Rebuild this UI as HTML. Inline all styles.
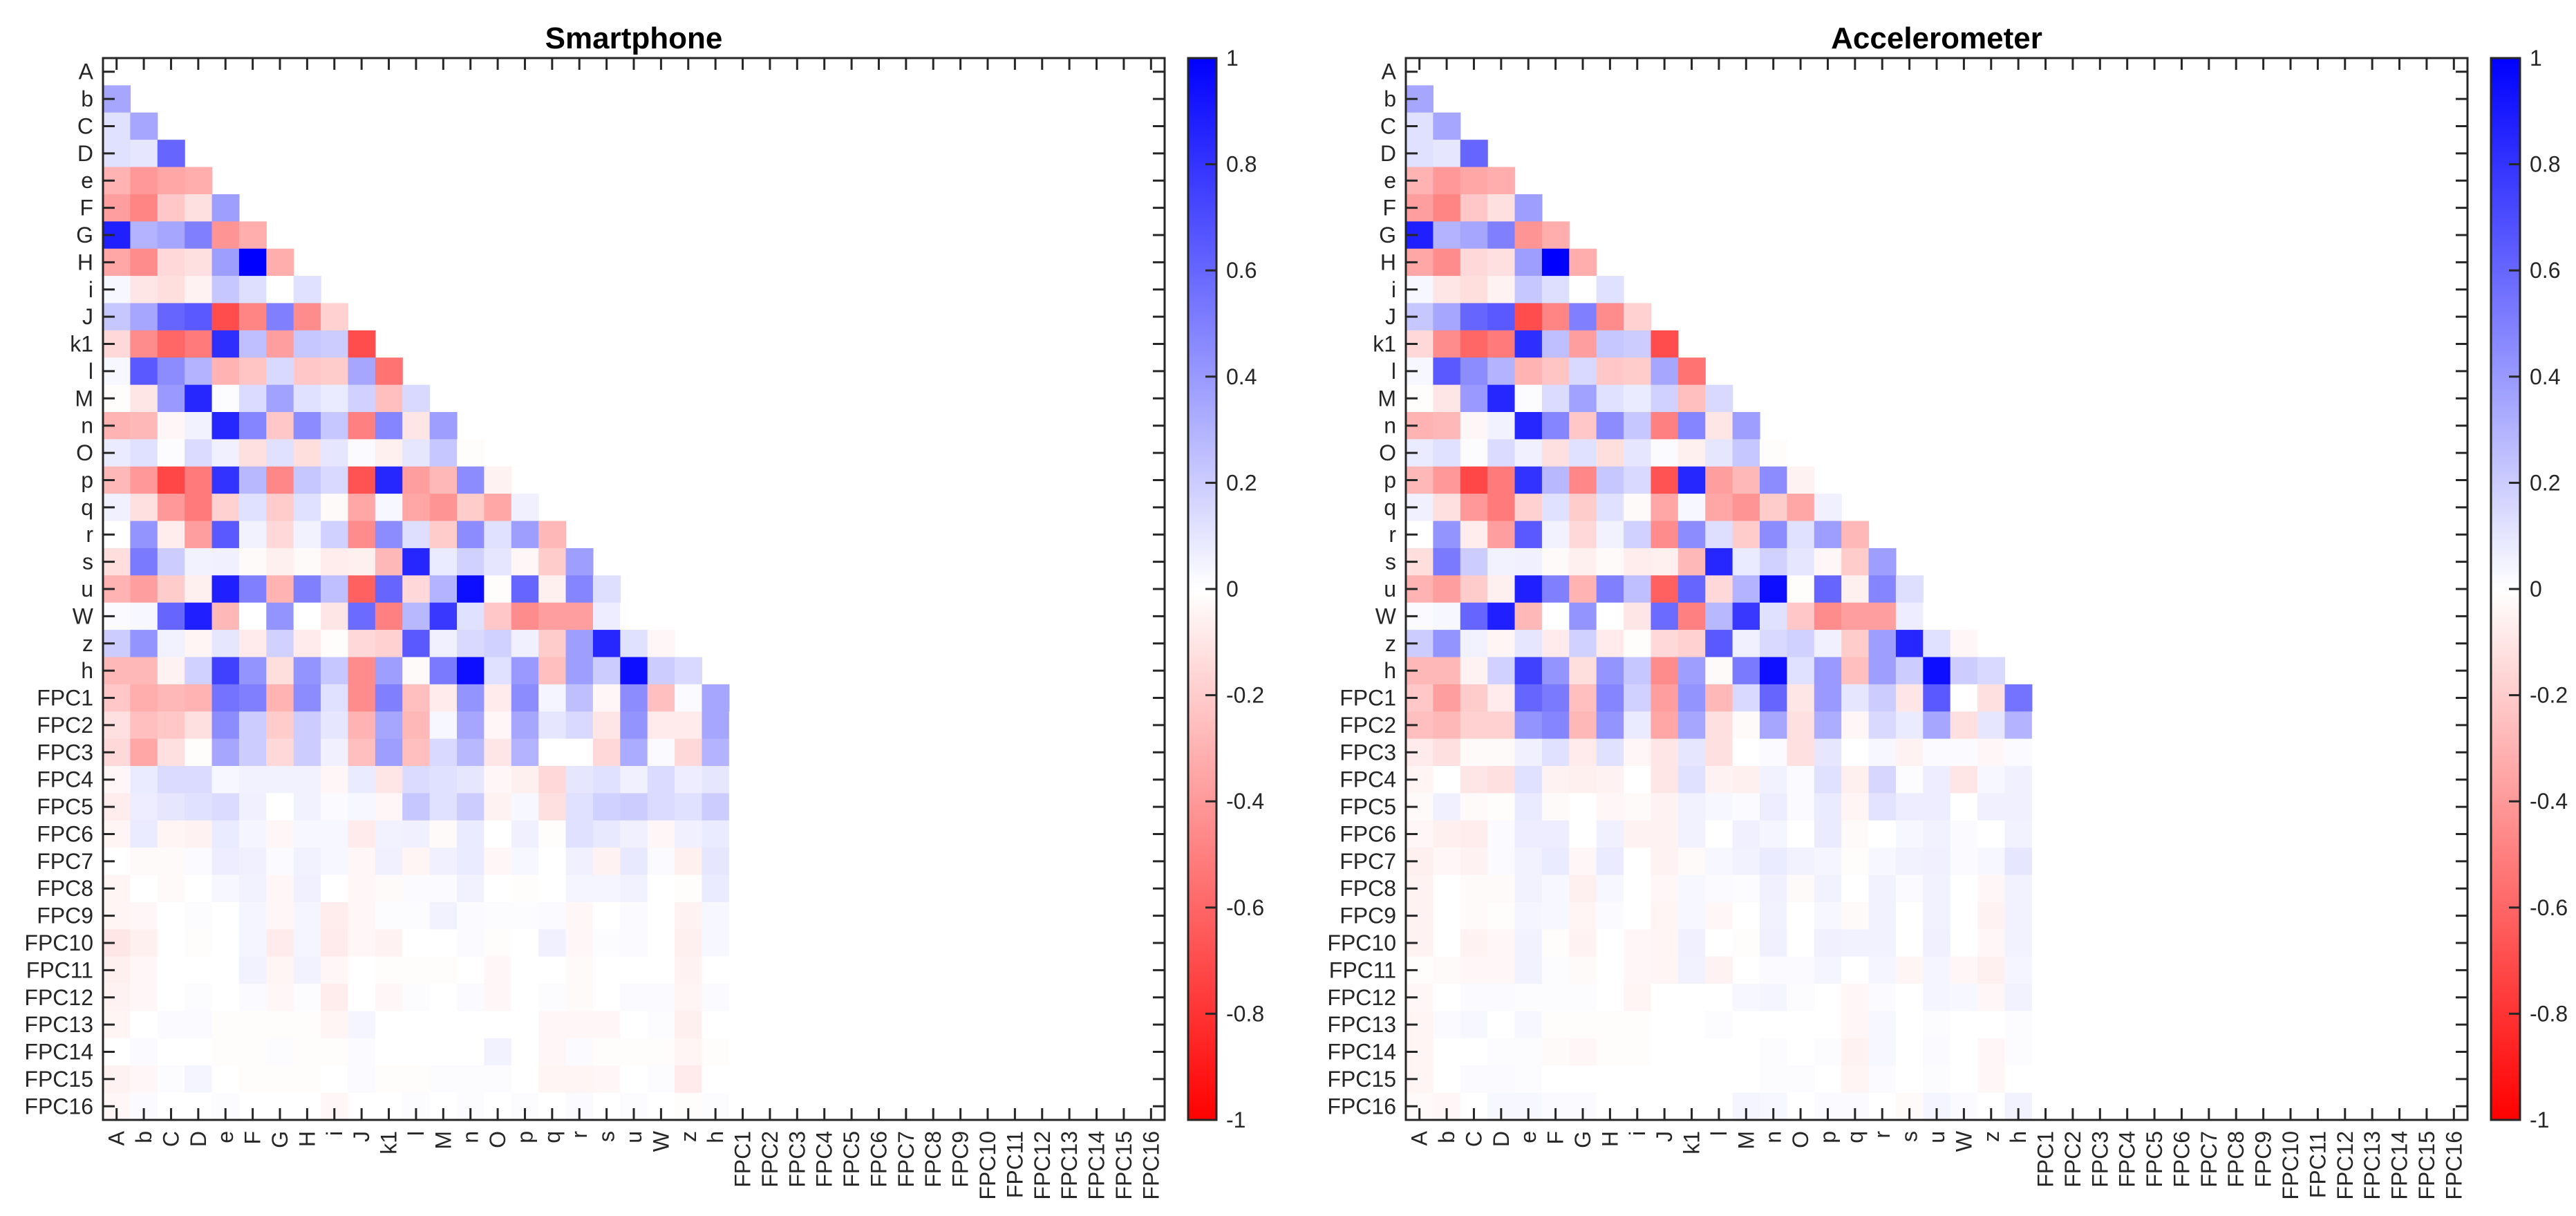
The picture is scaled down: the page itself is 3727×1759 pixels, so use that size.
<!DOCTYPE html>
<html><head><meta charset="utf-8">
<style>
html,body{margin:0;padding:0;background:#fff;}
svg{display:block;font-family:"Liberation Sans",Arial,sans-serif;}
</style></head>
<body>
<svg id="fig" width="3727" height="1759" viewBox="0 0 3727 1759" xmlns="http://www.w3.org/2000/svg">
<defs>
<linearGradient id="cbgrad" x1="0" y1="0" x2="0" y2="1">
<stop offset="0" stop-color="#0000ff"/><stop offset="0.5" stop-color="#ffffff"/><stop offset="1" stop-color="#ff0000"/>
</linearGradient>
</defs>
</svg>
<script>
const varNames = ["A","b","C","D","e","F","G","H","i","J","k1","l","M","n","O","p","q","r","s","u","W","z","h"];
const fpcNames = ["FPC1","FPC2","FPC3","FPC4","FPC5","FPC6","FPC7","FPC8","FPC9","FPC10","FPC11","FPC12","FPC13","FPC14","FPC15","FPC16"];
const cbTicks = [1,0.8,0.6,0.4,0.2,0,-0.2,-0.4,-0.6,-0.8,-1];
const cbTickLabels = ["1","0.8","0.6","0.4","0.2","0","-0.2","-0.4","-0.6","-0.8","-1"];

const varCorrRows = [
[],
[0.35],
[0.12,0.35],
[0.12,0.1,0.6],
[-0.3,-0.4,-0.35,-0.32],
[-0.38,-0.48,-0.22,-0.12,0.38],
[0.88,0.3,0.35,0.5,-0.42,-0.32],
[-0.35,-0.45,-0.15,-0.12,0.38,1.0,-0.32],
[0.03,-0.1,-0.13,-0.05,0.22,0.13,0.0,0.12],
[0.22,0.35,0.6,0.65,-0.7,-0.48,0.5,-0.45,-0.18],
[-0.15,-0.45,-0.6,-0.52,0.82,0.25,-0.38,0.22,0.2,-0.7],
[0.03,0.65,0.45,0.3,-0.3,-0.23,0.15,-0.22,-0.2,0.35,-0.55],
[-0.01,-0.1,0.4,0.85,0.01,0.14,0.37,0.12,0.08,0.18,-0.25,0.15],
[-0.3,-0.28,-0.03,0.05,0.85,0.48,-0.22,0.45,0.22,-0.5,0.48,-0.1,0.38],
[0.08,0.12,0.01,0.14,0.06,-0.12,0.12,-0.13,0.1,0.02,-0.06,0.1,0.22,-0.01],
[-0.28,-0.4,-0.72,-0.52,0.8,0.28,-0.47,0.22,0.15,-0.68,0.85,-0.38,-0.28,0.45,-0.05],
[0.06,-0.12,-0.4,-0.52,-0.18,0.12,-0.2,0.12,-0.02,-0.35,0.03,-0.35,-0.42,-0.2,-0.35,0.06],
[0.0,0.42,-0.07,-0.38,0.65,0.05,-0.15,0.05,0.18,-0.45,0.45,0.13,-0.2,0.45,0.12,0.38,-0.28],
[-0.13,0.52,0.2,0.05,0.06,-0.02,-0.06,-0.02,-0.07,-0.06,-0.28,0.85,0.08,0.18,0.1,-0.03,-0.2,0.38],
[-0.3,-0.38,-0.2,-0.06,0.88,0.5,-0.3,0.5,0.25,-0.62,0.6,-0.15,0.3,0.95,-0.01,0.6,-0.06,0.48,0.13],
[0.02,0.03,0.6,0.88,-0.28,0.0,0.42,0.0,-0.1,0.58,-0.5,0.28,0.78,0.12,-0.22,-0.45,-0.38,-0.38,0.07,0.0],
[0.2,0.42,0.05,-0.04,0.1,-0.08,0.18,-0.08,-0.01,-0.15,-0.18,0.65,0.06,0.15,0.18,0.06,-0.2,0.38,0.85,0.12,-0.03],
[-0.28,-0.28,-0.05,0.18,0.75,0.42,-0.13,0.42,0.22,-0.45,0.38,-0.02,0.52,0.95,0.12,0.4,-0.25,0.38,0.2,0.95,0.2,0.15]
];

const smartFpcRows = [
[-0.22,-0.32,-0.28,-0.3,0.55,0.5,-0.3,0.45,0.12,-0.45,0.5,-0.25,-0.08,0.42,-0.08,0.45,0.04,0.25,-0.03,0.45,-0.25,0.02,0.35],
[-0.12,-0.25,-0.22,-0.12,0.45,0.2,-0.2,0.2,0.1,-0.3,0.35,-0.28,0.03,0.35,-0.03,0.35,0.1,0.15,-0.1,0.42,-0.08,-0.08,0.35],
[-0.15,-0.35,-0.12,-0.01,0.35,0.2,-0.15,0.2,0.06,-0.25,0.38,-0.25,0.15,0.28,-0.1,0.3,0.0,0.0,-0.15,0.33,0.02,-0.15,0.3],
[-0.03,0.08,0.14,0.14,0.03,0.05,0.05,0.05,-0.03,0.08,-0.1,0.14,0.12,0.1,-0.03,-0.06,-0.15,0.1,0.12,0.06,0.14,0.07,0.1],
[-0.07,0.07,0.1,0.12,0.14,0.06,0,0.05,0.02,0.03,-0.03,0.22,0.12,0.2,-0.05,0.03,-0.12,0.12,0.18,0.2,0.14,0.12,0.2],
[-0.04,0.08,-0.04,-0.05,0.08,0.04,-0.03,0.03,0.03,-0.08,0.05,0.06,-0.02,0.08,0,0.06,-0.01,0.12,0.09,0.06,-0.03,0.06,0.08],
[0,-0.02,-0.02,0.02,0.07,0.06,0.02,0.05,0.03,-0.03,0.06,-0.04,0.06,0.08,-0.03,0.03,0,0.06,-0.05,0.09,0.02,-0.06,0.1],
[-0.04,0,-0.02,0,0.03,0.05,-0.03,0.06,0,-0.03,-0.02,0.02,0.02,0.05,0,-0.01,0,0.04,0.04,0.05,0,-0.01,0.08],
[-0.04,-0.03,0,0.01,0,0.04,-0.03,0.04,-0.07,-0.03,0.01,0.01,0.05,0.02,0.01,0.01,0.02,-0.03,0,0.02,0,-0.05,0.03],
[-0.1,-0.06,0,-0.01,0,0.04,-0.08,0.04,-0.08,-0.03,-0.05,0,0,0.02,-0.01,0,0.06,-0.03,0.01,0.02,0,-0.06,0.03],
[-0.06,-0.03,0,0,0,0.05,-0.04,0.05,-0.03,0,-0.01,-0.01,-0.01,0,-0.03,0,0,-0.02,0,0,0,-0.05,0],
[-0.05,-0.03,0,0.01,0,0.02,-0.03,0.01,-0.07,0,-0.03,0.01,0,0.02,-0.03,0,0.01,-0.02,0,0.02,0.02,-0.04,0.02],
[-0.04,0,0.02,0.02,-0.01,-0.01,-0.01,-0.01,-0.04,0.04,0,0,0,0,0,0,-0.03,-0.03,-0.03,0,0.01,-0.06,0],
[0,0.02,0,0,-0.01,-0.01,0.01,-0.01,-0.01,0.02,0,0,0,0,0.05,0,-0.03,0.02,-0.01,-0.01,-0.01,-0.04,-0.01],
[-0.05,-0.03,0.01,0.04,0,-0.01,-0.01,-0.01,0,0.02,-0.01,-0.01,0.01,0.01,0.01,0,-0.04,-0.04,-0.03,0,0.01,-0.08,0],
[-0.03,0.02,0,0,0.01,0,0,0,-0.03,0,0,0.01,0,0.01,0,0.01,0,0.02,0,0.01,0,-0.01,0.01]
];

const accelFpcRows = [
[-0.22,-0.38,-0.2,-0.08,0.6,0.52,-0.25,0.48,0.18,-0.38,0.42,-0.28,0.15,0.6,-0.1,0.4,0.1,0.2,-0.1,0.65,0.0,-0.12,0.55],
[-0.25,-0.28,-0.18,-0.18,0.42,0.48,-0.28,0.42,0.08,-0.35,0.35,-0.12,-0.02,0.35,-0.12,0.32,-0.03,0.15,0.08,0.35,-0.12,0.1,0.3],
[-0.08,-0.12,-0.02,-0.02,0.06,0.12,-0.08,0.12,-0.03,-0.1,0.1,-0.12,0,0.02,-0.12,0.1,0,0.03,-0.05,0.02,0.02,-0.03,0.02],
[-0.04,0,-0.1,-0.12,0.12,-0.05,-0.06,-0.05,0,-0.1,0.12,-0.05,-0.06,0.05,0.02,0.12,-0.06,0.16,0.01,0.07,-0.1,0.03,0.06],
[-0.02,0.06,-0.02,-0.01,0.08,-0.02,0,-0.03,-0.02,-0.05,0.05,0.03,0.02,0.07,0.02,0.08,-0.04,0.11,0.07,0.07,0,0.06,0.06],
[-0.03,-0.06,-0.07,0.02,0.07,0.07,0,0.06,-0.05,-0.05,0.05,0,0.06,0.04,0,0.08,-0.02,0,0.03,0.05,0.02,0,0.05],
[-0.06,-0.03,-0.05,0.02,0.05,0.08,-0.03,0.08,0,-0.05,-0.02,0.03,0.05,0.08,0.05,0.04,-0.01,0.03,0.05,0.06,0.02,0.03,0.1],
[-0.05,0,-0.02,-0.02,0.05,0.03,-0.06,0.03,0,-0.03,0.03,0.02,0.01,0.06,-0.02,0.05,0,0.05,0.02,0.05,0,-0.03,0.05],
[-0.05,0,-0.02,-0.01,0.04,0.03,-0.04,0.02,0,-0.04,0.03,-0.03,0,0.05,0,0.03,-0.02,0.05,0,0.05,0,-0.05,0.05],
[-0.05,0,-0.05,-0.03,0.05,-0.01,-0.05,0,-0.03,-0.04,0.06,0,-0.01,0.06,0,0.06,0.05,0.05,0,0.06,0,-0.03,0.05],
[-0.01,-0.02,-0.03,-0.03,0.05,0.01,-0.02,0,-0.03,-0.04,0.05,-0.05,0,0.02,0.02,0.04,0,0.04,-0.04,0.04,-0.03,-0.06,0.04],
[-0.03,0,0.02,0.02,0.01,0.01,0.01,0,-0.04,0,0,0,0.03,0.04,0.01,0,-0.03,0.02,0,0.04,0.03,-0.03,0.05],
[-0.04,0.02,0.03,0,0.03,-0.01,-0.01,-0.01,-0.01,0,0,0.01,0,0,0,0,-0.03,0.03,0,0.01,0,0,0.01],
[-0.04,0,0,0.01,0.01,-0.02,-0.03,-0.01,-0.01,0,0,0,0,0.01,0,0.01,-0.05,0.03,0,0.02,0,-0.03,0.01],
[-0.04,0,0.02,0.02,0.01,0,0,0,0,0,0,0,0,0.01,0.01,0,-0.04,0.02,0,0.01,0,-0.03,0],
[-0.02,-0.03,0,0.03,0.03,0.02,0.02,0,0,0,0,0,0.04,0.03,0,0.02,0.02,0,-0.02,0.04,0.02,0,0.05]
];

const smartTitle = "Smartphone";
const accelTitle = "Accelerometer";

const NS = "http://www.w3.org/2000/svg";
const svg = document.getElementById("fig");
const labels = varNames.concat(fpcNames);
const N = labels.length;

function mk(tag, attrs, parent){
  const e = document.createElementNS(NS, tag);
  for (const k in attrs) e.setAttribute(k, attrs[k]);
  parent.appendChild(e);
  return e;
}
function colorOf(v){
  v = Math.max(-1, Math.min(1, v));
  if (v >= 0){ const c = Math.round(255*(1-v)); return `rgb(${c},${c},255)`; }
  const c = Math.round(255*(1+v)); return `rgb(255,${c},${c})`;
}
function valueAt(fpcRows, r, c){
  if (c >= r) return null;
  if (r < varNames.length) return varCorrRows[r][c];
  if (c < varNames.length) return fpcRows[r - varNames.length][c];
  return 0;
}

function drawChart(name, title, fpcRows, L, R, T, B, cbL, cbR){
  const g = mk("g", {}, svg);
  
  
  const cw = (R - L) / N, ch = (B - T) / N;
  const xs = c => L + c * cw;
  const ys = r => T + r * ch;
  const cells = mk("g", {}, g);
  
  
  for (let r = 0; r < N; r++){
    for (let c = 0; c < N; c++){
      const v = valueAt(fpcRows, r, c);
      if (v === null) continue;
      const rect = mk("rect", {x: xs(c).toFixed(2), y: ys(r).toFixed(2), width: (cw+0.6).toFixed(2), height: (ch+0.6).toFixed(2), fill: colorOf(v)}, cells);
      
      
    }
  }
  const frame = mk("rect", {x: L, y: T, width: R-L, height: B-T, fill: "none", stroke: "#262626", "stroke-width": 3}, g);
  
  
  const tk = 17;
  for (let i = 0; i < N; i++){
    const cx = xs(i) + cw/2, cy = ys(i) + ch/2;
    mk("line", {x1: cx, y1: B, x2: cx, y2: B - tk, stroke: "#262626", "stroke-width": 3}, g);
    mk("line", {x1: cx, y1: T, x2: cx, y2: T + tk, stroke: "#262626", "stroke-width": 3}, g);
    mk("line", {x1: L, y1: cy, x2: L + tk, y2: cy, stroke: "#262626", "stroke-width": 3}, g);
    mk("line", {x1: R, y1: cy, x2: R - tk, y2: cy, stroke: "#262626", "stroke-width": 3}, g);
    const yl = mk("text", {x: L - 14, y: cy + 11, "text-anchor": "end", "font-size": 32, fill: "#262626"}, g);
    yl.textContent = labels[i];
    
    
    const xl = mk("text", {x: 0, y: 0, "text-anchor": "end", "font-size": 32, fill: "#262626", transform: `translate(${cx + 11},${B + 16}) rotate(-90)`}, g);
    xl.textContent = labels[i];
    
    
  }
  const t = mk("text", {x: (L+R)/2, y: 70, "text-anchor": "middle", "font-size": 44, "font-weight": "bold", fill: "#000"}, g);
  t.textContent = title;
  
  
  const cb = mk("g", {}, g);
  
  
  mk("rect", {x: cbL, y: T, width: cbR-cbL, height: B-T, fill: "url(#cbgrad)", stroke: "#262626", "stroke-width": 3}, cb);
  const cy = v => T + (1 - v) / 2 * (B - T);
  for (let i = 0; i < cbTicks.length; i++){
    const v = cbTicks[i], y = cy(v);
    if (Math.abs(v) < 1) mk("line", {x1: cbR, y1: y, x2: cbR - 16, y2: y, stroke: "#262626", "stroke-width": 3}, cb);
    const tl = mk("text", {x: cbR + 14, y: y + 11, "font-size": 32, fill: "#262626"}, cb);
    tl.textContent = cbTickLabels[i];
    
    
  }
}

drawChart("smartphone-heatmap", smartTitle, smartFpcRows, 149, 1685, 84, 1620, 1719, 1760);
drawChart("accelerometer-heatmap", accelTitle, accelFpcRows, 2034, 3570, 84, 1620, 3604, 3646);
</script>
</body></html>
